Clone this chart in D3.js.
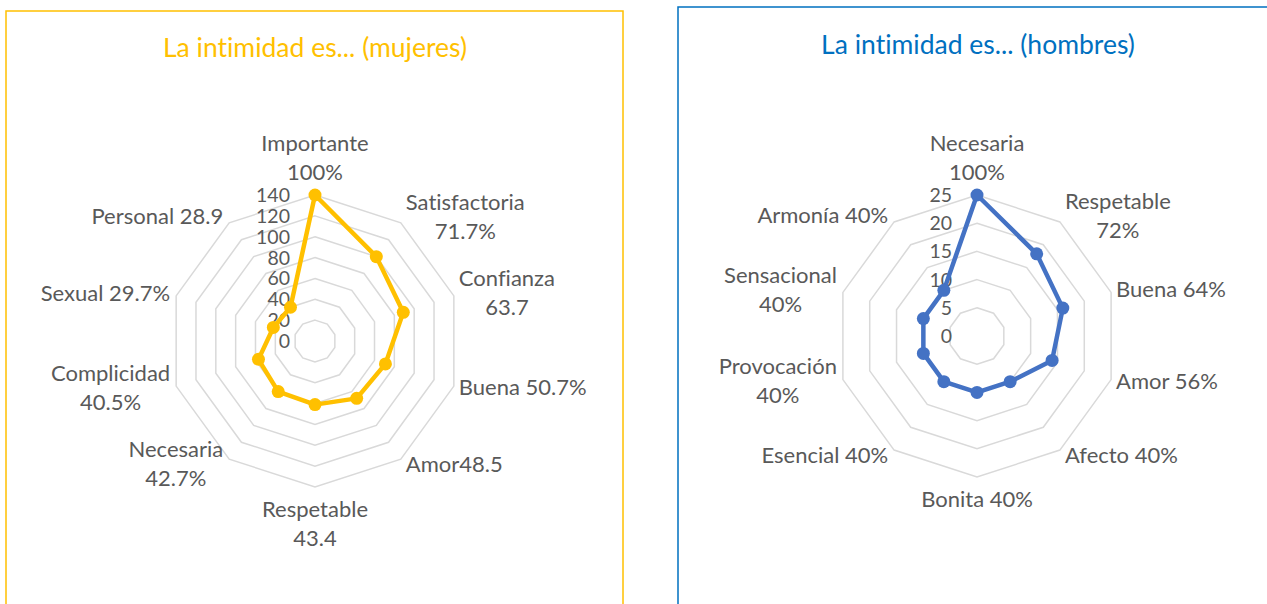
<!DOCTYPE html>
<html>
<head>
<meta charset="utf-8">
<script src="https://cdn.jsdelivr.net/npm/d3@7"></script>
<style>
  body { margin: 0; background: #fff; }
  svg { display: block; font-family: Lato, "Noto Sans", sans-serif; font-variant-ligatures: none; }
  .label { fill: #595959; font-size: 22px; }
  .tick-label { fill: #595959; font-size: 19.5px; }
  .title { font-size: 26.5px; }
</style>
</head>
<body>
<div class="canvas"></div>
<script>
// --- data: mujeres ---
const categoriesMujeres = ['Importante', 'Satisfactoria', 'Confianza', 'Buena', 'Amor',
    'Respetable', 'Necesaria', 'Complicidad', 'Sexual', 'Personal'];
const valuesMujeres = [140, 100, 89, 71, 68, 61, 60, 57, 42, 40];
const labelsMujeres = [['Importante', '100%'], ['Satisfactoria', '71.7%'], ['Confianza', '63.7'],
    ['Buena 50.7%'], ['Amor48.5'], ['Respetable', '43.4'], ['Necesaria', '42.7%'],
    ['Complicidad', '40.5%'], ['Sexual 29.7%'], ['Personal 28.9']];
const ticksMujeres = [0, 20, 40, 60, 80, 100, 120, 140];

// --- data: hombres ---
const categoriesHombres = ['Necesaria', 'Respetable', 'Buena', 'Amor', 'Afecto',
    'Bonita', 'Esencial', 'Provocación', 'Sensacional', 'Armonía'];
const valuesHombres = [25, 18, 16, 14, 10, 10, 10, 10, 10, 10];
const labelsHombres = [['Necesaria', '100%'], ['Respetable', '72%'], ['Buena 64%'], ['Amor 56%'],
    ['Afecto 40%'], ['Bonita 40%'], ['Esencial 40%'], ['Provocación', '40%'],
    ['Sensacional', '40%'], ['Armonía 40%']];
const ticksHombres = [0, 5, 10, 15, 20, 25];

const width = 1267, height = 604;
const svg = d3.select('.canvas')
    .append('svg')
    .attr('width', width)
    .attr('height', height)
    ;

svg.append('rect').attr('width', width).attr('height', height).attr('fill', '#fff');

// chart frames
svg.append('rect')
    .attr('x', 6).attr('y', 11).attr('width', 617).attr('height', 620)
    .attr('fill', 'none').attr('stroke', '#FFC000').attr('stroke-width', 1.5);
svg.append('rect')
    .attr('x', 678).attr('y', 7).attr('width', 640).attr('height', 620)
    .attr('fill', 'none').attr('stroke', '#0070C0').attr('stroke-width', 1.5);

function radar(opts) {
    const { cx, cy, R, categories, values, labels, ticks, color, title, titleColor, titleX, titleY } = opts;
    const n = categories.length;
    const g = svg.append('g').attr('transform', `translate(${cx}, ${cy})`);

    const rScale = d3.scaleLinear().domain([0, d3.max(ticks)]).range([0, R]);
    const aScale = d3.scaleLinear().domain([0, n]).range([0, 2 * Math.PI]);

    const ring = (v) => d3.lineRadial()
        .angle((d, i) => aScale(i))
        .radius(() => rScale(v))
        .curve(d3.curveLinearClosed)(categories);

    // grid rings (no ring at 0)
    g.selectAll('path.ring')
        .data(ticks.filter(t => t > 0))
        .enter()
        .append('path')
        .attr('class', 'ring')
        .attr('d', (t) => ring(t))
        .attr('fill', 'none')
        .attr('stroke', '#D9D9D9')
        .attr('stroke-width', 1.5);

    // tick labels along the top spoke
    g.selectAll('text.tick-label')
        .data(ticks)
        .enter()
        .append('text')
        .attr('class', 'tick-label')
        .attr('x', -25)
        .attr('y', (t) => -rScale(t))
        .attr('dy', '0.36em')
        .attr('text-anchor', 'end')
        .text((t) => t);

    // series line
    const line = d3.lineRadial()
        .angle((d, i) => aScale(i))
        .radius((d) => rScale(d))
        .curve(d3.curveLinearClosed);

    g.append('path')
        .attr('d', line(values))
        .attr('fill', 'none')
        .attr('stroke', color)
        .attr('stroke-width', 4.5)
        .attr('stroke-linejoin', 'round');

    g.selectAll('circle')
        .data(values)
        .enter()
        .append('circle')
        .attr('r', 6.5)
        .attr('cx', (d, i) => rScale(d) * Math.sin(aScale(i)))
        .attr('cy', (d, i) => -rScale(d) * Math.cos(aScale(i)))
        .attr('fill', color);

    // category labels
    const LH = 29, gap = 8;
    labels.forEach((lines, i) => {
        const a = aScale(i);
        const s = Math.sin(a), c = Math.cos(a);
        const vx = R * s, vy = -R * c;
        const h = lines.length * LH;
        const t = g.append('text').attr('class', 'label');
        const spans = lines.map(l => t.append('tspan').text(l));
        const w = d3.max(spans, sp => sp.node().getComputedTextLength());
        let midX, midY;
        if (Math.abs(s) < 0.01) {
            midX = vx;
            midY = c > 0 ? vy - h / 2 - gap : vy + h / 2 + gap;
        } else if (s > 0) {
            midX = vx + 5 + w / 2;
            midY = vy - 7 * c;
        } else {
            midX = vx - 6 - w / 2;
            midY = vy - 7 * c;
        }
        spans.forEach((sp, k) => {
            sp.attr('x', midX)
                .attr('y', midY - h / 2 + LH * k + LH / 2 + 7)
                .attr('text-anchor', 'middle');
        });
    });

    // title
    svg.append('text')
        .attr('class', 'title')
        .attr('x', titleX)
        .attr('y', titleY)
        .attr('text-anchor', 'middle')
        .attr('fill', titleColor)
        .text(title);
}

radar({
    cx: 315, cy: 341, R: 146,
    categories: categoriesMujeres, values: valuesMujeres, labels: labelsMujeres, ticks: ticksMujeres,
    color: '#FFC000', title: 'La intimidad es... (mujeres)', titleColor: '#FFC000', titleX: 315, titleY: 57
});

radar({
    cx: 977, cy: 336, R: 141,
    categories: categoriesHombres, values: valuesHombres, labels: labelsHombres, ticks: ticksHombres,
    color: '#4472C4', title: 'La intimidad es... (hombres)', titleColor: '#0070C0', titleX: 978, titleY: 54
});
</script>
</body>
</html>
